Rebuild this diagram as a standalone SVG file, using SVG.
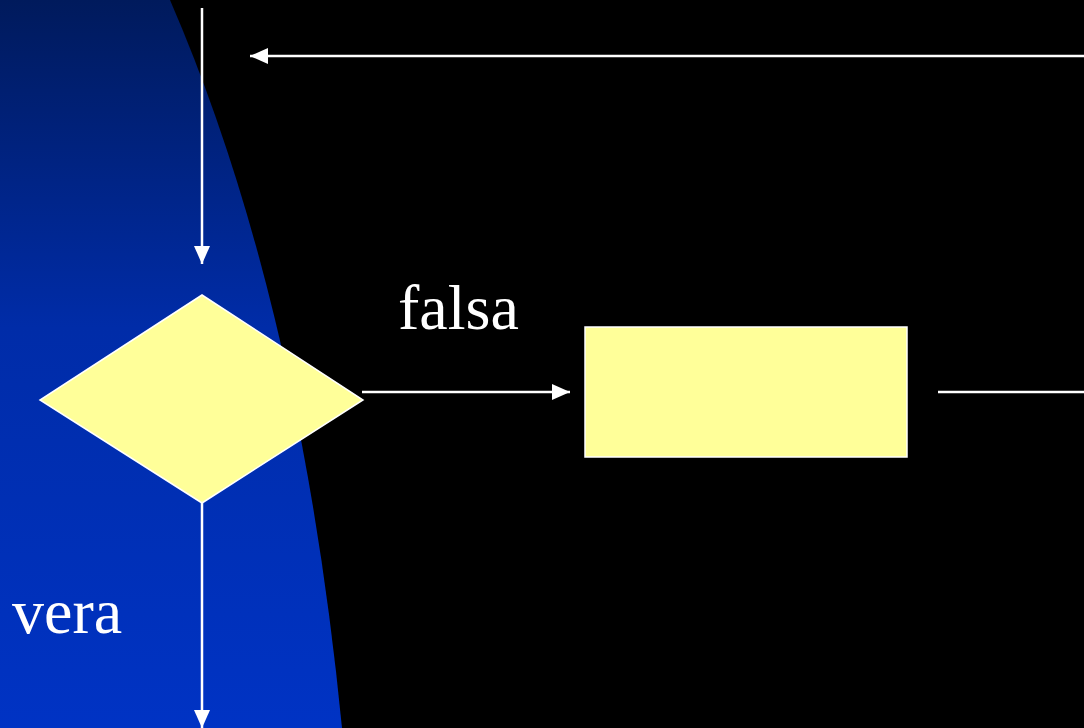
<svg xmlns="http://www.w3.org/2000/svg" width="1084" height="728" viewBox="0 0 1084 728">
<defs>
<linearGradient id="bg" x1="0" y1="0" x2="0" y2="1">
<stop offset="0" stop-color="#001a5c"/>
<stop offset="0.45" stop-color="#002ca8"/>
<stop offset="1" stop-color="#0033c4"/>
</linearGradient>
<marker id="ah" viewBox="0 0 18 16" refX="18" refY="8" markerWidth="18" markerHeight="16" markerUnits="userSpaceOnUse" orient="auto">
<path d="M0,0 L18,8 L0,16 Z" fill="#fff"/>
</marker>
<style>
.c{stroke:#fff;stroke-width:2.5;fill:none}
.n{fill:#ffff99;stroke:#fff;stroke-width:1.5}
.t{font-family:"Liberation Serif","Times New Roman",serif;font-size:64px;fill:#fff}
</style>
</defs>
<rect width="1084" height="728" fill="#000"/>
<path d="M0,0 L170,0 Q300,300 342,728 L0,728 Z" fill="url(#bg)"/>
<g id="connectors">
<line class="c" x1="202" y1="8" x2="202" y2="264" marker-end="url(#ah)"/>
<line class="c" x1="1084" y1="56" x2="250" y2="56" marker-end="url(#ah)"/>
<line class="c" x1="362" y1="392" x2="570" y2="392" marker-end="url(#ah)"/>
<line class="c" x1="938" y1="392" x2="1084" y2="392"/>
<line class="c" x1="202" y1="503" x2="202" y2="728" marker-end="url(#ah)"/>
</g>
<g id="decision">
<polygon class="n" points="202,295 363,400 202,503 40,400"/>
</g>
<g id="process">
<rect class="n" x="585" y="327" width="322" height="130"/>
</g>
<g id="label-falsa"><text class="t" x="398" y="329">falsa</text></g>
<g id="label-vera"><text class="t" x="12" y="633">vera</text></g>
</svg>
